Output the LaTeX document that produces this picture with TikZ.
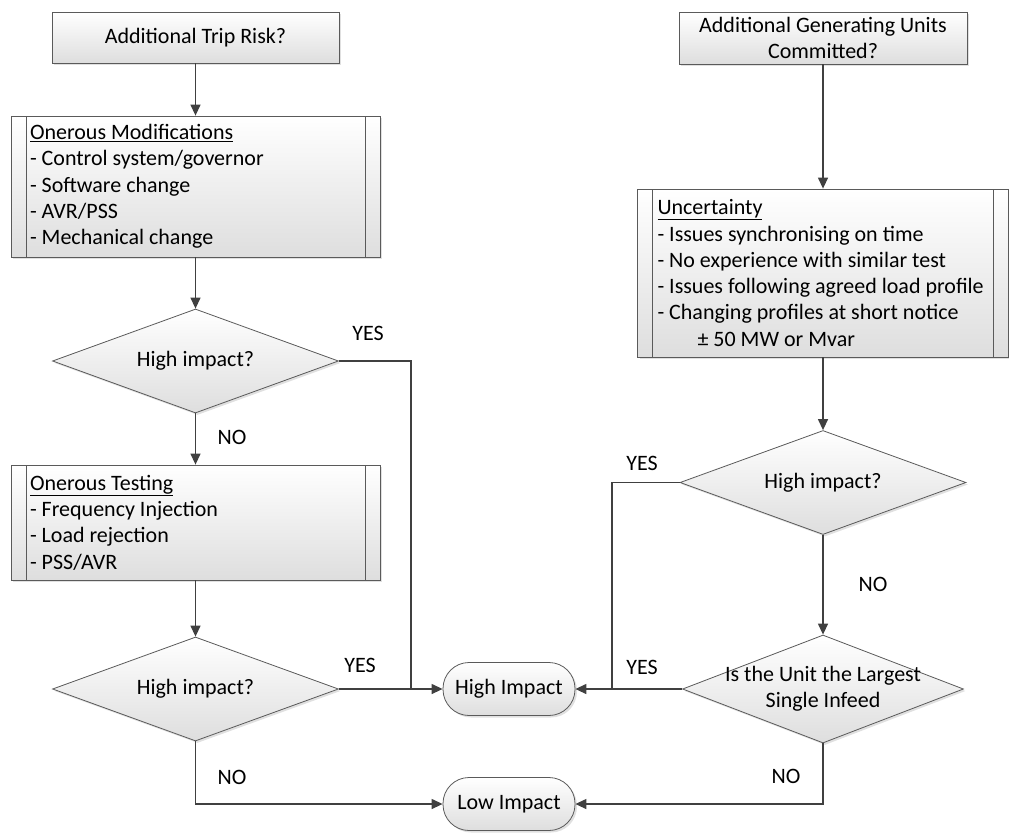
\documentclass[tikz,border=0pt]{standalone}
\usepackage{fontspec}
\setmainfont{Carlito}
\usetikzlibrary{shapes.geometric,arrows.meta,shadows}
\definecolor{linegray}{HTML}{404040}
\definecolor{edgegray}{HTML}{5A5A5A}
\tikzset{
  base/.style={draw=edgegray, line width=0.8pt, top color=white, bottom color=black!13,
    drop shadow={shadow xshift=2pt, shadow yshift=-2pt, fill=black!30, opacity=0.4},
    font=\fontsize{22}{26.3}\selectfont},
  question/.style={base, rectangle, minimum width=287pt, minimum height=51pt, align=center, inner sep=0pt},
  process/.style={base, rectangle, align=flush left, inner xsep=19pt, inner ysep=0pt,
    path picture={\draw[edgegray, line width=0.8pt]
      ([xshift=15pt]path picture bounding box.north west) -- ([xshift=15pt]path picture bounding box.south west)
      ([xshift=-15pt]path picture bounding box.north east) -- ([xshift=-15pt]path picture bounding box.south east);}},
  decision/.style={base, diamond, aspect=2.75, minimum width=286pt, minimum height=104pt, inner sep=0pt, align=center},
  terminal/.style={base, rectangle, rounded corners=26pt, minimum width=132pt, minimum height=53pt},
  flow/.style={draw=linegray, line width=1.3pt, -{Triangle[length=11pt, width=10pt]}},
  link/.style={draw=linegray, line width=1.3pt},
  lbl/.style={font=\fontsize{22}{26}\selectfont}
}
\begin{document}
\begin{tikzpicture}[x=1pt, y=-1pt]
\useasboundingbox (0,0) rectangle (1009,833);
\node[question] (trip) at (195.5,37.5) {Additional Trip Risk?};
\node[process, text width=331pt, minimum height=141pt] (mods) at (195.5,186.5)
  {\underline{Onerous Modifications}\\- Control system/governor\\- Software change\\- AVR/PSS\\- Mechanical change};
\node[decision] (d1) at (195.5,361) {High impact?};
\node[process, text width=331pt, minimum height=115pt] (test) at (195.5,522.5)
  {\underline{Onerous Testing}\\- Frequency Injection\\- Load rejection\\- PSS/AVR};
\node[decision] (d2) at (195.5,689) {High impact?};

\node[question, minimum width=288pt, minimum height=52pt] (gen) at (823,38) {Additional Generating Units\\Committed?};
\node[process, inner xsep=20pt, text width=331pt, minimum height=168pt] (unc) at (823,273)
  {\underline{Uncertainty}\\- Issues synchronising on time\\- No experience with similar test\\- Issues following agreed load profile\\- Changing profiles at short notice\\\hspace*{40pt}± 50 MW or Mvar};
\node[decision] (d3) at (823,482.5) {High impact?};
\node[decision, minimum width=281pt, minimum height=108pt,
  label={[lbl, align=center]center:Is the Unit the Largest\\Single Infeed}] (d4) at (823,689) {};

\node[terminal] (high) at (509,689) {High Impact};
\node[terminal] (low) at (509,804) {Low Impact};

\coordinate (j1) at (411,689);
\coordinate (j2) at (612,689);

\draw[flow] (trip) -- (mods);
\draw[flow] (mods) -- (d1);
\draw[flow] (d1) -- (test);
\draw[link] (d1.east) -| (j1);
\draw[flow] (test) -- (d2);
\draw[flow] (d2.east) -- (high.west);
\draw[flow] (d2.south) |- (low.west);

\draw[flow] (gen) -- (unc);
\draw[flow] (unc) -- (d3);
\draw[link] (d3.west) -| (j2);
\draw[flow] (d3) -- (d4);
\draw[flow] (d4.west) -- (high.east);
\draw[flow] (d4.south) |- (low.east);

\node[lbl] (yes1) at (368,333) {YES};
\node[lbl] (no1) at (232,437) {NO};
\node[lbl] (yes2) at (360,665) {YES};
\node[lbl] (no2) at (232,777) {NO};
\node[lbl] (yes3) at (642,463) {YES};
\node[lbl] (no3) at (873,584) {NO};
\node[lbl] (yes4) at (642,667) {YES};
\node[lbl] (no4) at (786,776) {NO};
\end{tikzpicture}
\end{document}
